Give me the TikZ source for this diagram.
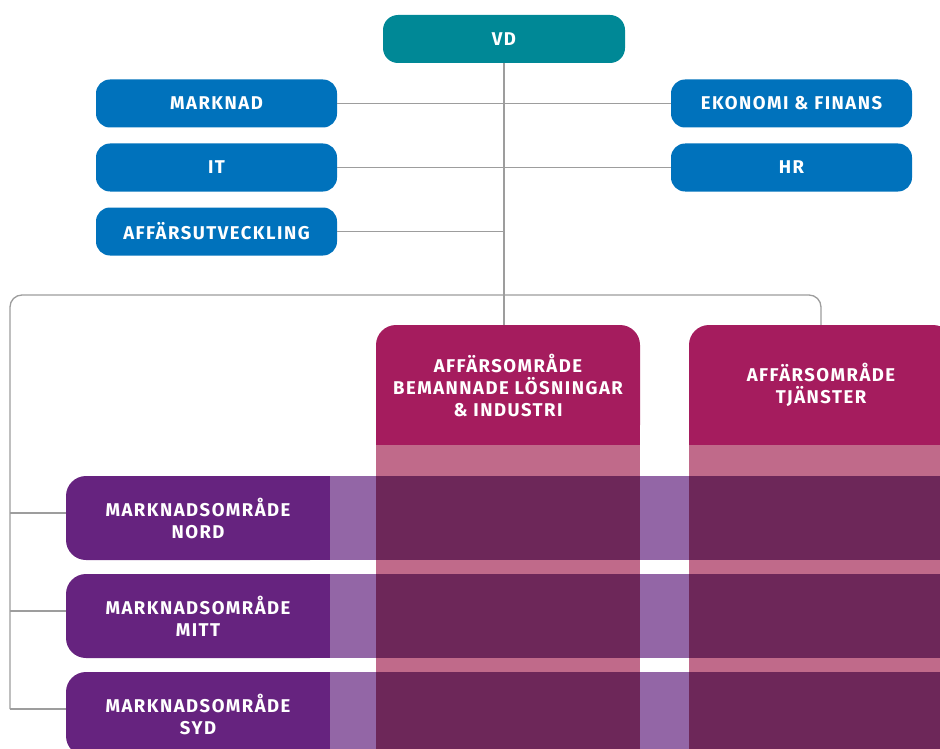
\documentclass[tikz,border=0pt]{standalone}
\usepackage{fontspec}
\usepackage{xcolor}
\usepackage{tikz}

\newfontfamily\orgfont{Fira Sans}[LetterSpace=8]

\definecolor{vdteal}{HTML}{008896}
\definecolor{staffblue}{HTML}{0072BC}
\definecolor{aored}{HTML}{A51C5E}
\definecolor{aopink}{HTML}{C06A8A}
\definecolor{mopurple}{HTML}{66237F}
\definecolor{molilac}{HTML}{9366A6}
\definecolor{overlap}{HTML}{6D2759}
\definecolor{linegray}{HTML}{9D9D9D}

\begin{document}
\begin{tikzpicture}[x=1pt, y=-1pt,
    boxtext/.style={text=white, align=center, inner sep=0pt,
        font=\orgfont\bfseries\fontsize{18.5}{22}\selectfont},
    staffbox/.style={boxtext, fill=staffblue, rounded corners=14pt,
        minimum width=241pt, minimum height=48pt},
    aobox/.style={boxtext, fill=aored, rounded corners=20pt,
        minimum width=264pt, minimum height=120pt},
    mobox/.style={boxtext, fill=mopurple, rounded corners=20pt,
        minimum width=264pt, minimum height=84pt},
    orgline/.style={draw=linegray, line width=1.3pt}]

        \useasboundingbox (0,0) rectangle (940,749);
        \clip (0,0) rectangle (940,749);

        % business areas and their columns
        \node[aobox] (ao1) at (508,385) {AFFÄRSOMRÅDE\\BEMANNADE LÖSNINGAR\\\& INDUSTRI};
        \node[aobox] (ao2) at (821,385) {AFFÄRSOMRÅDE\\TJÄNSTER};
        \fill[aored] ([yshift=25pt]ao1.south west) rectangle (ao1.south east);
        \fill[aored] ([yshift=25pt]ao2.south west) rectangle (ao2.south east);
        \fill[aopink] (ao1.south west) rectangle (ao1.east |- 0,760);
        \fill[aopink] (ao2.south west) rectangle (ao2.east |- 0,760);

        % market areas
        \node[mobox] (nord) at (198,518) {MARKNADSOMRÅDE\\NORD};
        \node[mobox] (mitt) at (198,616) {MARKNADSOMRÅDE\\MITT};
        \node[mobox] (syd) at (198,714) {MARKNADSOMRÅDE\\SYD};

        \foreach \mo in {nord, mitt, syd} {
            \fill[mopurple] ([xshift=-25pt]\mo.north east) rectangle (\mo.south east);
            \fill[molilac] (\mo.north east) rectangle (\mo.south east -| ao2.east);
            \fill[overlap] (\mo.north -| ao1.west) rectangle (\mo.south -| ao1.east);
            \fill[overlap] (\mo.north -| ao2.west) rectangle (\mo.south -| ao2.east);
            \coordinate (\mo pin) at ([yshift=5pt]\mo.west);
        }

        % top management
        \node[boxtext, fill=vdteal, rounded corners=15pt, minimum width=242pt,
            minimum height=48pt] (vd) at (504,39) {VD};

        \node[staffbox] (marknad) at (216.5,103.5) {MARKNAD};
        \node[staffbox] (it) at (216.5,167.5) {IT};
        \node[staffbox] (aff) at (216.5,231.5) {AFFÄRSUTVECKLING};
        \node[staffbox] (ekonomi) at (791.5,103.5) {EKONOMI \& FINANS};
        \node[staffbox] (hr) at (791.5,167.5) {HR};

        \coordinate (split) at (504,295);
        \coordinate (trunk) at (10,295);

        \draw[orgline] (vd.south) -- (vd.south |- ao1.north);
        \draw[orgline] (marknad.east) -- (ekonomi.west);
        \draw[orgline] (it.east) -- (hr.west);
        \draw[orgline] (aff.east) -- (aff.east -| vd.south);

        \draw[orgline, rounded corners=12pt] (ao2.north) |- (split) -- (trunk) -- (trunk |- sydpin);

        \draw[orgline] (trunk |- nordpin) -- (nordpin);
        \draw[orgline] (trunk |- mittpin) -- (mittpin);
        \draw[orgline] (trunk |- sydpin) -- (sydpin);

    \end{tikzpicture}
\end{document}
